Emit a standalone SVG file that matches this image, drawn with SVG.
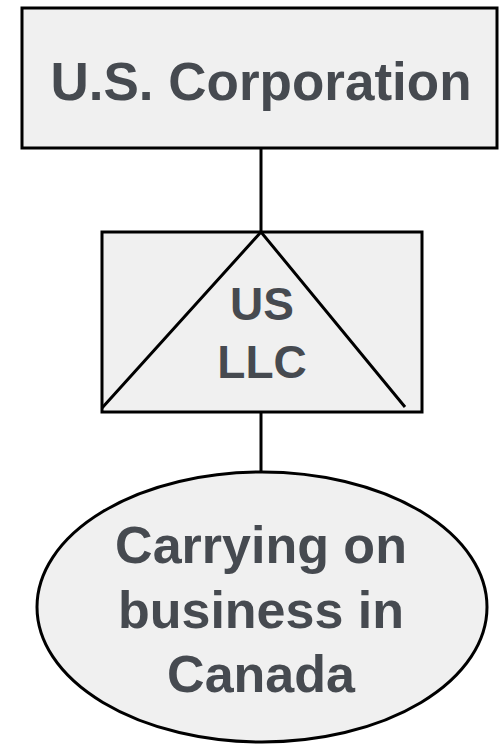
<svg xmlns="http://www.w3.org/2000/svg" width="500" height="744" viewBox="0 0 500 744">
<style>
.shape{fill:#f0f0f0;stroke:#000;stroke-width:3}
.line{stroke:#000;stroke-width:3;fill:none}
.t{font-family:"Liberation Sans",Arial,sans-serif;font-weight:bold;fill:#464a50;text-anchor:middle}
</style>
<rect width="500" height="744" fill="#fff"/>
<g id="connectors">
<line class="line" x1="261" y1="148" x2="261" y2="232"/>
<line class="line" x1="261" y1="412" x2="261" y2="472"/>
</g>
<g id="us-corporation">
<rect class="shape" x="22" y="8" width="475" height="140"/>
<text class="t" x="261" y="100" font-size="53">U.S. Corporation</text>
</g>
<g id="us-llc">
<rect class="shape" x="102" y="232" width="320" height="180"/>
<polyline class="line" points="102,408 261,232 405,407"/>
<text class="t" x="262" y="320" font-size="46">US</text>
<text class="t" x="262" y="378" font-size="46">LLC</text>
</g>
<g id="canada">
<ellipse class="shape" cx="262" cy="607" rx="225" ry="135"/>
<text class="t" x="261" y="563" font-size="52">Carrying on</text>
<text class="t" x="261" y="628" font-size="52">business in</text>
<text class="t" x="261" y="692" font-size="52">Canada</text>
</g>
</svg>
